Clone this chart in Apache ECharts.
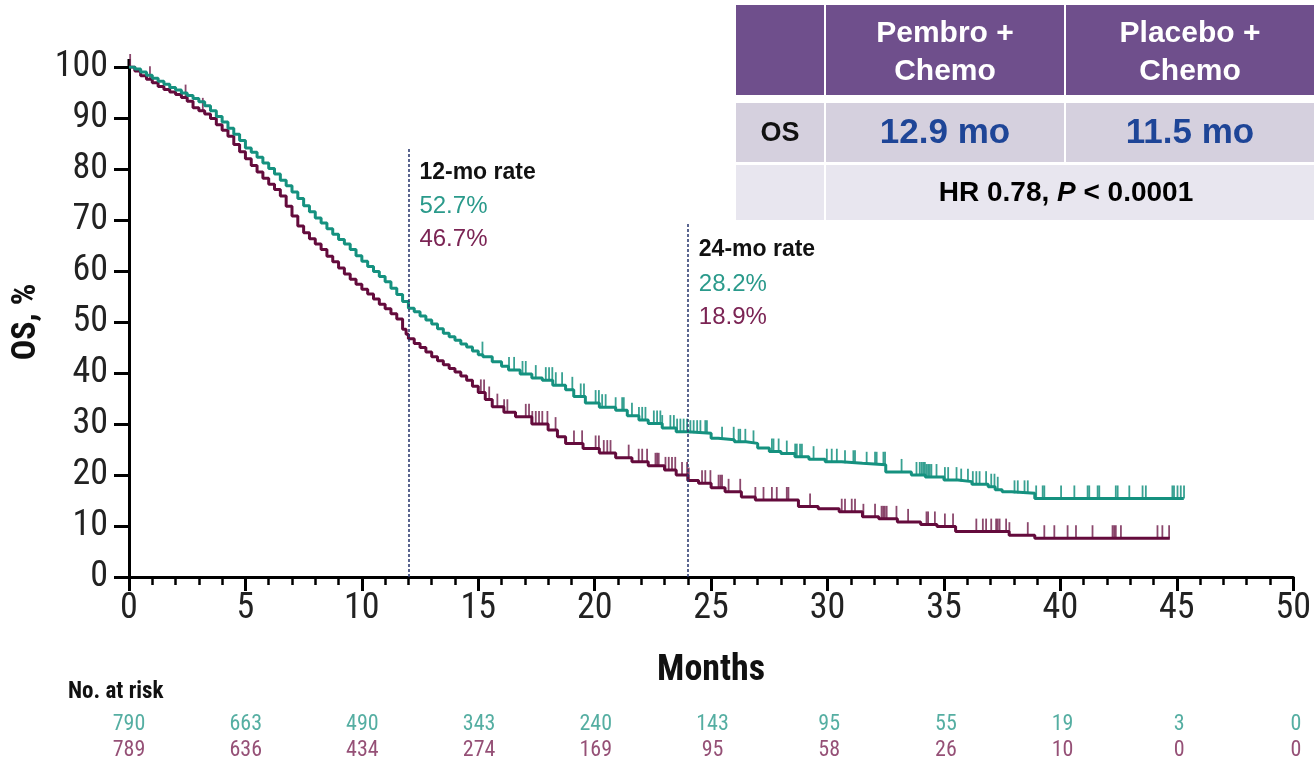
<!DOCTYPE html>
<html>
<head>
<meta charset="utf-8">
<script src="https://cdn.jsdelivr.net/npm/echarts@6/dist/echarts.min.js"></script>
<style>
  html, body { margin: 0; padding: 0; background: #fff; }
  #chart { width: 1314px; height: 763px; }
</style>
</head>
<body>
<div id="chart"></div>
<script>
// ---- Data ----------------------------------------------------------------
const monthTicks = [0, 5, 10, 15, 20, 25, 30, 35, 40, 45, 50];

// Kaplan-Meier overall survival, [month, % alive]
const pembroOS = [
  [0, 100], [0.25, 99.6], [0.5, 99.0], [0.75, 98.4], [1.0, 97.8], [1.25, 97.2],
  [1.5, 96.6], [1.75, 96.0], [2.0, 95.5], [2.25, 94.9], [2.5, 94.4], [2.75, 93.8],
  [3.0, 93.2], [3.25, 92.4], [3.5, 91.4], [3.75, 90.3], [4.0, 89.2], [4.25, 88.0],
  [4.5, 86.8], [4.75, 85.6], [5.0, 84.1], [5.25, 83.3], [5.5, 82.3], [5.75, 81.2],
  [6.0, 80.1], [6.25, 79.0], [6.5, 77.8], [6.75, 76.7], [7.0, 75.5], [7.25, 74.2],
  [7.5, 72.8], [7.75, 71.6], [8.0, 70.4], [8.25, 69.4], [8.5, 68.3], [8.75, 67.2],
  [9.0, 66.2], [9.25, 65.3], [9.5, 64.2], [9.75, 63.0], [10.0, 61.9], [10.25, 60.9],
  [10.5, 59.9], [10.75, 58.9], [11.0, 57.9], [11.25, 56.6], [11.5, 55.4], [11.75, 54.0],
  [12.0, 52.7], [12.25, 52.0], [12.5, 51.2], [12.75, 50.4], [13.0, 49.6], [13.25, 48.7],
  [13.5, 47.8], [13.75, 47.1], [14.0, 46.4], [14.25, 45.7], [14.5, 45.1], [14.75, 44.3],
  [15.0, 43.6], [15.2, 43.2], [15.6, 42.2], [16.0, 41.3], [16.3, 40.6], [16.8, 39.8],
  [17.3, 39.0], [17.75, 38.6], [18.2, 37.6], [18.75, 36.7], [19.1, 35.4], [19.6, 34.1],
  [20.2, 33.3], [20.9, 32.7], [21.4, 31.6], [21.9, 30.8], [22.3, 30.1], [22.9, 29.2],
  [23.5, 28.5], [24.0, 28.2], [25.0, 27.2], [25.3, 26.9], [26.0, 26.5], [26.5, 26.2],
  [27.0, 25.3], [27.5, 24.6], [28.0, 24.2], [28.6, 23.6], [29.2, 23.1], [29.9, 22.6],
  [30.6, 22.3], [31.5, 22.0], [32.5, 20.6], [33.6, 20.0], [34.2, 19.6], [35.0, 19.0],
  [35.6, 18.7], [36.2, 18.2], [36.9, 17.7], [37.2, 17.1], [37.5, 16.7], [37.9, 16.4],
  [38.9, 15.4], [45.3, 15.4]
];
const placeboOS = [
  [0, 100], [0.25, 99.2], [0.5, 98.3], [0.75, 97.6], [1.0, 96.9], [1.25, 96.2],
  [1.5, 95.6], [1.75, 95.1], [2.0, 94.6], [2.25, 94.0], [2.5, 93.3], [2.75, 92.0],
  [3.0, 91.4], [3.25, 90.8], [3.5, 89.9], [3.75, 88.7], [4.0, 87.6], [4.25, 86.4],
  [4.5, 84.8], [4.75, 83.4], [5.0, 82.0], [5.25, 80.7], [5.5, 79.4], [5.75, 78.2],
  [6.0, 77.0], [6.25, 76.0], [6.5, 74.7], [6.75, 72.7], [7.0, 70.8], [7.25, 68.8],
  [7.5, 67.5], [7.75, 66.3], [8.0, 65.3], [8.25, 64.2], [8.5, 62.9], [8.75, 61.8],
  [9.0, 60.6], [9.25, 59.4], [9.5, 58.4], [9.75, 57.4], [10.0, 56.4], [10.25, 55.5],
  [10.5, 54.5], [10.75, 53.5], [11.0, 52.6], [11.25, 51.6], [11.5, 50.6], [11.75, 48.6],
  [11.9, 47.6], [12.0, 46.7], [12.25, 45.8], [12.5, 45.0], [12.75, 44.1], [13.0, 43.2],
  [13.25, 42.4], [13.5, 41.6], [13.75, 40.9], [14.0, 40.2], [14.25, 39.4], [14.5, 38.6],
  [14.75, 37.4], [15.0, 36.2], [15.3, 34.8], [15.6, 33.4], [16.1, 32.3], [16.6, 31.4],
  [17.3, 30.0], [18.0, 28.8], [18.4, 27.5], [18.75, 26.2], [19.5, 25.2], [20.2, 24.3],
  [20.9, 23.4], [21.6, 22.6], [22.3, 21.8], [23.0, 21.0], [23.5, 20.0], [24.0, 18.9],
  [24.46, 18.4], [25.0, 17.5], [25.6, 16.7], [26.3, 15.7], [26.9, 15.1], [28.75, 13.8],
  [29.6, 13.4], [30.5, 12.8], [31.5, 11.8], [32.2, 11.4], [33.0, 10.8], [34.0, 10.3],
  [34.7, 9.9], [35.5, 8.9], [37.8, 8.2], [38.9, 7.6], [44.7, 7.6]
];

// Censored observations (months)
const pembroCensored = [
  15.18, 16.32, 16.54, 16.9, 17.04, 17.47, 17.9, 18.04, 18.18, 18.33, 18.6, 19.04,
  19.4, 19.54, 20.04, 20.18, 20.32, 20.47, 20.9, 21.18, 21.25, 21.6, 21.9, 22.04,
  22.18, 22.54, 22.68, 22.82, 22.9, 23.25, 23.4, 23.54,
  23.68, 23.82, 23.97, 24.11, 24.25, 24.4, 24.54, 24.75, 24.82, 25.47, 25.97, 26.18,
  26.25, 26.47, 26.82, 27.61, 27.68, 27.9, 28.25, 28.61, 28.68, 28.82, 28.9, 29.4,
  29.97, 30.18, 30.4, 30.75, 31.11, 31.18, 31.68, 32.04, 32.11, 32.4, 32.47, 33.18,
  33.82, 33.96, 34.04, 34.11, 34.18, 34.25, 34.32, 34.39, 34.46, 34.68, 35.04, 35.18,
  35.54, 35.74, 36.03, 36.24, 36.39, 36.53, 36.81, 37.03, 37.17, 37.31, 38.03, 38.17,
  38.46, 38.6, 38.96, 39.24, 39.31, 40.03, 40.6, 41.17, 41.24, 41.6, 41.67, 42.38,
  42.46, 42.96, 43.53, 43.67, 44.81, 44.88, 45.03, 45.17, 45.31
];
const placeboCensored = [
  0.05, 0.9, 2.43, 3.17,
  15.11, 15.25, 15.47, 15.82, 16.11, 16.25, 17.04, 17.18, 17.32, 17.47, 17.61, 17.75,
  17.97, 18.32, 19.11, 19.46, 20.04, 20.18, 20.39, 20.54, 20.68, 21.46, 21.89, 22.04,
  22.25, 22.61, 22.68, 22.75, 23.04, 23.18, 23.32, 23.46,
  23.75, 23.97, 24.04, 24.61, 24.75, 24.97, 25.32, 25.4, 25.47, 25.75, 26.25, 26.9,
  27.25, 27.61, 27.82, 28.25, 28.32, 29.25, 30.61, 30.75, 31.04, 31.18, 31.54, 32.04,
  32.32, 32.39, 32.46, 32.54, 32.96, 33.46, 34.25, 34.32, 34.61, 35.04, 35.39,
  36.39, 36.67, 36.81, 37.03, 37.24, 37.31, 37.39, 37.67, 37.81, 38.6, 39.31, 39.74,
  40.31, 40.67, 41.38, 42.24, 42.31, 42.38, 42.6, 44.17, 44.38, 44.67
];

// Number at risk at each 5-month tick
const atRiskPembro = [790, 663, 490, 343, 240, 143, 95, 55, 19, 3, 0];
const atRiskPlacebo = [789, 636, 434, 274, 169, 95, 58, 26, 10, 0, 0];

// Landmark survival rates
const landmarkMonths = [12, 24];
const landmarkLabels = ['12-mo rate', '24-mo rate'];
const landmarkPembro = [52.7, 28.2];
const landmarkPlacebo = [46.7, 18.9];

// Summary table
const armNames = ['Pembro +\nChemo', 'Placebo +\nChemo'];
const medianOS = [12.9, 11.5];
const hazardRatio = 0.78;
const pValueText = '< 0.0001';

// ---- Styling -------------------------------------------------------------
const TEAL = '#15917f';
const MAROON = '#640b3c';
const TEAL_TXT = '#2a9a8b';
const MAROON_TXT = '#7b2454';
const NAVY = '#24336c';
const NARROW = '"Liberation Sans Narrow","Arial Narrow","Roboto Condensed",sans-serif';
const SANS = '"Liberation Sans",Arial,Helvetica,sans-serif';

function survivalAt(curve, t) {
  let v = curve[0][1];
  for (const [m, s] of curve) {
    if (m <= t) v = s; else break;
  }
  return v;
}

const chart = echarts.init(document.getElementById('chart'), null, { renderer: 'canvas' });

const tickMark = { symbol: 'rect', symbolSize: [1.8, 13], symbolOffset: [0, -6.5] };

chart.setOption({
  animation: false,
  backgroundColor: '#fff',
  grid: [
    { left: 129, right: 18, top: 67, bottom: 186, containLabel: false },
    { left: 129, right: 18, top: 711, height: 56, containLabel: false }
  ],
  xAxis: [
    {
      type: 'value', gridIndex: 0, min: 0, max: 50, interval: 5,
      axisLine: { lineStyle: { color: '#000', width: 3 } },
      axisTick: { show: true, inside: false, length: 14, lineStyle: { color: '#000', width: 3 } },
      minorTick: { show: true, splitNumber: 5, length: 8, lineStyle: { color: '#000', width: 2.5 } },
      splitLine: { show: false },
      axisLabel: { fontFamily: NARROW, fontSize: 36, color: '#222', margin: 14 },
      name: 'Months', nameLocation: 'middle', nameGap: 76,
      nameTextStyle: { fontFamily: NARROW, fontSize: 36, fontWeight: 'bold', color: '#111' }
    },
    { type: 'value', gridIndex: 1, min: 0, max: 50, show: false }
  ],
  yAxis: [
    {
      type: 'value', gridIndex: 0, min: 0, max: 100, interval: 10,
      axisLine: { show: true, lineStyle: { color: '#000', width: 3 } },
      axisTick: { show: true, inside: false, length: 15, lineStyle: { color: '#000', width: 3 } },
      splitLine: { show: false },
      axisLabel: { fontFamily: NARROW, fontSize: 36, color: '#222', margin: 21 },
      name: 'OS, %', nameLocation: 'middle', nameGap: 74, nameRotate: 90,
      nameTextStyle: { fontFamily: NARROW, fontSize: 34, fontWeight: 'bold', color: '#111' }
    },
    { type: 'category', gridIndex: 1, data: ['pembro', 'placebo'], inverse: true, show: false }
  ],
  series: [
    {
      name: 'Placebo + Chemo', type: 'line', step: 'end', data: placeboOS,
      showSymbol: false, symbol: 'none',
      lineStyle: { color: MAROON, width: 3 }, z: 3,
      markLine: {
        silent: true, symbol: 'none', label: { show: false },
        lineStyle: { color: NAVY, width: 1.5, type: [3, 2] },
        data: [
          [{ coord: [landmarkMonths[0], 0] }, { coord: [landmarkMonths[0], 84.2] }],
          [{ coord: [landmarkMonths[1], 0] }, { coord: [landmarkMonths[1], 69.6] }]
        ]
      }
    },
    {
      name: 'Pembro + Chemo', type: 'line', step: 'end', data: pembroOS,
      showSymbol: false, symbol: 'none',
      lineStyle: { color: TEAL, width: 3 }, z: 4
    },
    {
      name: 'Placebo censored', type: 'scatter', ...tickMark,
      data: placeboCensored.map(t => [t, survivalAt(placeboOS, t)]),
      itemStyle: { color: MAROON, opacity: 0.75 }, z: 2
    },
    {
      name: 'Pembro censored', type: 'scatter', ...tickMark,
      data: pembroCensored.map(t => [t, survivalAt(pembroOS, t)]),
      itemStyle: { color: TEAL, opacity: 0.85 }, z: 2
    },
    {
      name: 'At risk', type: 'scatter', xAxisIndex: 1, yAxisIndex: 1,
      symbolSize: 2, itemStyle: { color: 'rgba(255,255,255,0)' },
      data: [
        ...monthTicks.map((m, i) => ({ value: [m, 0, atRiskPembro[i]], label: { color: TEAL_TXT } })),
        ...monthTicks.map((m, i) => ({ value: [m, 1, atRiskPlacebo[i]], label: { color: MAROON_TXT } }))
      ],
      label: {
        show: true, position: 'inside', fontFamily: NARROW, fontSize: 22,
        formatter: p => String(p.value[2])
      }
    }
  ]
});

// ---- Annotations placed through the axis scales ---------------------------
const g = [];

// y-axis line runs a little past the 100 tick
const [axX, axTop] = chart.convertToPixel({ gridIndex: 0 }, [0, 100]);
g.push({ type: 'line', shape: { x1: axX, y1: axTop, x2: axX, y2: axTop - 8 }, style: { stroke: '#000', lineWidth: 3 } });

landmarkMonths.forEach((m, i) => {
  const topPct = i === 0 ? 84.2 : 69.6;
  const [px, py] = chart.convertToPixel({ gridIndex: 0 }, [m, topPct]);
  const x = px + 11;
  const y0 = py + (i === 0 ? 25 : 28);
  g.push({ type: 'text', x, y: y0, style: { text: landmarkLabels[i], fontFamily: SANS, fontWeight: 'bold', fontSize: 23, fill: '#111', textVerticalAlign: 'middle' } });
  g.push({ type: 'text', x, y: y0 + 34, style: { text: landmarkPembro[i].toFixed(1) + '%', fontFamily: SANS, fontSize: 24, fill: TEAL_TXT, textVerticalAlign: 'middle' } });
  g.push({ type: 'text', x, y: y0 + 67, style: { text: landmarkPlacebo[i].toFixed(1) + '%', fontFamily: SANS, fontSize: 24, fill: MAROON_TXT, textVerticalAlign: 'middle' } });
});

g.push({ type: 'text', x: 68, y: 692, style: { text: 'No. at risk', fontFamily: NARROW, fontWeight: 'bold', fontSize: 23, fill: '#111', textVerticalAlign: 'middle' } });

// Summary table: header row, median row, merged hazard-ratio row
const cols = [[736, 88], [826, 238], [1066, 248]];
const rows = [[5, 90], [103, 59], [165, 55]];
const fills = ['#6f4f8c', '#d5d0de', '#e8e6ef'];
[0, 1].forEach(r => {
  const [y, h] = rows[r];
  cols.forEach(([x, w]) => {
    g.push({ type: 'rect', shape: { x, y, width: w, height: h }, style: { fill: fills[r] } });
  });
});
g.push({ type: 'rect', shape: { x: 736, y: rows[2][0], width: 88, height: rows[2][1] }, style: { fill: fills[2] } });
g.push({ type: 'rect', shape: { x: 826, y: rows[2][0], width: 488, height: rows[2][1] }, style: { fill: fills[2] } });

armNames.forEach((name, i) => {
  const [x, w] = cols[i + 1];
  g.push({ type: 'text', x: x + w / 2, y: rows[0][0] + rows[0][1] / 2 + 3, style: { text: name, fontFamily: SANS, fontWeight: 'bold', fontSize: 30, lineHeight: 38, fill: '#fff', textAlign: 'center', textVerticalAlign: 'middle' } });
  g.push({ type: 'text', x: x + w / 2, y: rows[1][0] + rows[1][1] / 2 + 1, style: { text: medianOS[i].toFixed(1) + ' mo', fontFamily: SANS, fontWeight: 'bold', fontSize: 35, fill: '#1e4597', textAlign: 'center', textVerticalAlign: 'middle' } });
});
g.push({ type: 'text', x: cols[0][0] + cols[0][1] / 2, y: rows[1][0] + rows[1][1] / 2 + 1, style: { text: 'OS', fontFamily: SANS, fontWeight: 'bold', fontSize: 27, fill: '#111', textAlign: 'center', textVerticalAlign: 'middle' } });
g.push({
  type: 'text', x: 826 + 488 / 2 - 4, y: rows[2][0] + rows[2][1] / 2 + 1,
  style: {
    text: '{b|HR ' + hazardRatio.toFixed(2) + ', }{i|P}{b| ' + pValueText + '}',
    textAlign: 'center', textVerticalAlign: 'middle',
    rich: {
      b: { fontFamily: SANS, fontWeight: 'bold', fontSize: 28, color: '#111' },
      i: { fontFamily: SANS, fontWeight: 'bold', fontStyle: 'italic', fontSize: 28, color: '#111' }
    }
  }
});

chart.setOption({ graphic: g });
</script>
</body>
</html>
